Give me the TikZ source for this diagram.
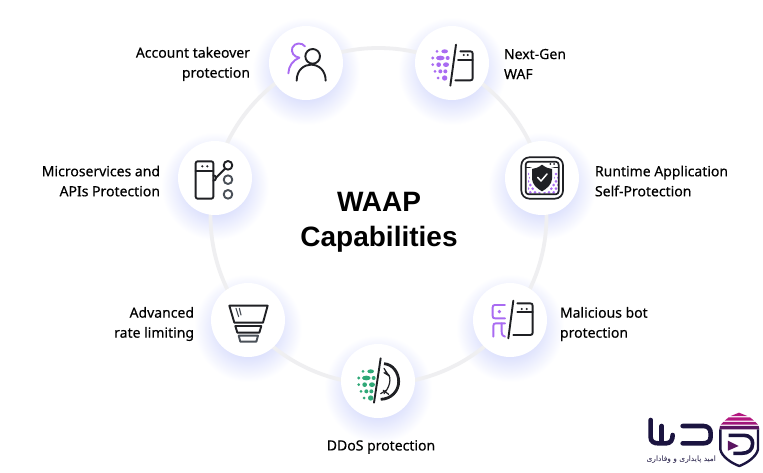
\documentclass[tikz,border=0pt]{standalone}
\usepackage{fontspec}
\setmainfont[FakeBold=0.25]{Noto Sans}
\newfontfamily\titlefont{Liberation Sans}
\newfontfamily\arabicfont[Script=Arabic]{DejaVu Sans}
\TeXXeTstate=1
\definecolor{ink}{HTML}{1F2024}
\definecolor{greyink}{HTML}{4A5058}
\definecolor{lilac}{HTML}{A96BF2}
\definecolor{leaf}{HTML}{2FA877}
\definecolor{ringc}{HTML}{EFEFF1}
\definecolor{halo}{HTML}{6A7DF5}
\definecolor{navy}{HTML}{1B1440}
\definecolor{magenta}{HTML}{B3177F}
\definecolor{plum}{HTML}{5A1560}
\tikzset{
  every node/.style={inner sep=0pt,outer sep=0pt},
  wheel/.style={circle,fill=white,minimum size=74pt},
  lab/.style={font=\fontsize{14}{20}\selectfont,text=black},
  labr/.style={lab,align=right,anchor=east},
  labl/.style={lab,align=left,anchor=west},
  ic/.style={draw=ink,line width=1.9pt,line cap=round,line join=round},
  lil/.style={draw=lilac,line width=1.9pt,line cap=round,line join=round},
  icon/.style={x=0.3333pt,y=-0.3333pt},
  markstroke/.style={draw=navy,line width=4.6pt,line cap=round,line join=round},
}
\newcommand{\haloat}[2]{%
  \shade[inner color=halo!48,outer color=white] (#1,#2+8) circle[radius=54pt];
}
% spray of dots, units are 1/3 px around the icon centre
\newcommand{\spray}[2]{%
  \begin{scope}[yshift=#2]
  \fill[#1] (-45,-35) circle[radius=4.5] (-22,-35) ellipse[x radius=10,y radius=6]
   (-58,-15) circle[radius=5] (-35,-15) ellipse[x radius=13,y radius=7] (-13,-15) circle[radius=6]
   (-58,5) circle[radius=4.5] (-40,5) circle[radius=7] (-18,5) ellipse[x radius=9,y radius=7]
   (-51,25) circle[radius=4.5] (-35,25) circle[radius=6] (-20,25) circle[radius=6]
   (-42,45) circle[radius=4.5] (-22,45) circle[radius=8];
  \end{scope}}
\begin{document}
\begin{tikzpicture}[x=1pt,y=-1pt]
\useasboundingbox (0,0) rectangle (763,473);
\fill[white] (0,0) rectangle (763,473);
\haloat{306}{63}\haloat{452}{63}\haloat{542}{178}\haloat{510}{320}\haloat{378}{381}\haloat{248}{320}\haloat{215}{178}
\draw[ringc,line width=3.8pt] (378.5,216) circle[radius=168pt];
\node[wheel] (acct) at (306,63) {};
\node[wheel] (waf) at (452,63) {};
\node[wheel] (rasp) at (542,178) {};
\node[wheel] (bot) at (510,320) {};
\node[wheel] (ddos) at (378,381) {};
\node[wheel] (rate) at (248,320) {};
\node[wheel] (micro) at (215,178) {};

% account icon
\begin{scope}[shift={(acct.center)},icon]
 \draw[lil] (-3,-50) .. controls (-12,-62) and (-34,-62) .. (-41,-46) .. controls (-46,-32) and (-36,-18) .. (-20,-16) .. controls (-40,-8) and (-52,10) .. (-53,31);
 \draw[ic] (20,-20) circle[radius=22];
 \draw[ic] (-28,53) .. controls (-28,20) and (-5,5) .. (15,5) .. controls (38,5) and (59,22) .. (59,53);
\end{scope}

% WAF icon
\begin{scope}[shift={(waf.center)},icon]
 \spray{lilac}{0pt}
 \draw[ic] (12,-55) -- (-5,68);
 \draw[ic] (25,-35) -- (55,-35) .. controls (60,-35) and (62,-33) .. (62,-28) -- (62,45) .. controls (62,50) and (60,52) .. (55,52) -- (10,52);
 \draw[ic] (18,-10) -- (62,-10);
 \fill[ink] (35,-24) circle[radius=3.5] (47,-24) circle[radius=3.5];
\end{scope}

% runtime protection icon
\begin{scope}[shift={(rasp.center)},icon]
 \begin{scope}
  \clip (-42,-20) rectangle (50,48);
  \foreach \i in {0,...,6}{\foreach \j in {0,...,5}{
    \fill[lilac] ({-42+\i*14+mod(\j,2)*7},{-12+\j*11}) circle[radius=4.4];}}
 \end{scope}
 \draw[ic,line width=1.7pt,rounded corners=8pt] (-62,-62) rectangle (63,62);
 \draw[ic,line width=1.7pt,rounded corners=3pt] (-49,-49) rectangle (50,49);
 \draw[ic,line width=1.2pt] (-49,-32) -- (-32,-32);
 \draw[ic,line width=1.2pt] (30,-32) -- (50,-32);
 \fill[ink] (25,-42) circle[radius=3] (36,-42) circle[radius=3];
 \fill[white] (0,-46) .. controls (-12,-36) and (-24,-32) .. (-36,-31) -- (-36,2) .. controls (-36,22) and (-18,38) .. (0,46) .. controls (18,38) and (36,22) .. (36,2) -- (36,-31) .. controls (24,-32) and (12,-36) .. (0,-46) -- cycle;
 \fill[ink] (0,-40) .. controls (-10,-32) and (-20,-28) .. (-30,-27) -- (-30,2) .. controls (-30,18) and (-15,32) .. (0,40) .. controls (15,32) and (30,18) .. (30,2) -- (30,-27) .. controls (20,-28) and (10,-32) .. (0,-40) -- cycle;
 \draw[white,line width=1.5pt,line cap=round,line join=round] (-13,-2) -- (-3,9) -- (15,-12);
\end{scope}

% bot icon
\begin{scope}[shift={(bot.center)},icon]
 \draw[lil] (-15,-45) -- (-45,-45) .. controls (-50,-45) and (-52,-43) .. (-52,-38) -- (-52,-12) .. controls (-52,-7) and (-50,-5) .. (-45,-5) -- (-15,-5);
 \fill[lilac] (-32,-25) circle[radius=5.5];
 \draw[lil] (-15,10) -- (-42,10) .. controls (-48,10) and (-50,12) .. (-50,18) -- (-50,50);
 \draw[lil] (-25,10) -- (-25,35) .. controls (-25,45) and (-20,50) .. (-15,50);
 \draw[ic] (10,-58) -- (-5,55);
 \draw[ic] (22,-50) -- (60,-50) .. controls (66,-50) and (68,-48) .. (68,-42) -- (68,38) .. controls (68,43) and (66,45) .. (60,45) -- (10,45);
 \draw[ic] (22,-23) -- (68,-23);
 \fill[ink] (35,-33) circle[radius=3.5] (50,-33) circle[radius=3.5];
\end{scope}

% rate limiting icon
\begin{scope}[shift={(rate.center)},icon]
 \draw[ic] (-56,-43) -- (59,-43) -- (45,8) -- (-41,8) -- cycle;
 \draw[ic,draw=greyink,line width=1.1pt] (-36,-35) -- (-28,-10);
 \draw[ic,draw=greyink,line width=1.1pt] (-26,-35) -- (-21,-15);
 \draw[ic] (-38,18) -- (40,18) -- (34,38) -- (-32,38) -- cycle;
 \draw[ic,draw=greyink] (-28,47) -- (30,47) -- (25,65) -- (-23,65) -- cycle;
\end{scope}

% DDoS icon
\begin{scope}[shift={(ddos.center)},icon]
 \spray{leaf}{-2pt}
 \draw[ic] (8,-68) -- (-12,65);
 \draw[ic,line width=2.8pt,line cap=butt] (18,-52) .. controls (45,-50) and (62,-25) .. (62,2) .. controls (62,30) and (40,54) .. (8,55);
 \draw[ic,line width=1.2pt] (22,-28) .. controls (40,-20) and (42,10) .. (18,38);
 \draw[ic,line width=1.2pt] (18,-25) -- (34,-15) (18,-38) -- (28,-22) (16,28) -- (32,40) (8,38) -- (24,28);
\end{scope}

% micro-services icon
\begin{scope}[shift={(micro.center)},icon]
 \draw[ic,rounded corners=2pt] (-58,-50) rectangle (-5,62);
 \draw[ic] (-58,-20) -- (-5,-20);
 \fill[ink] (-38,-35) circle[radius=3.6] (-23,-35) circle[radius=3.6];
 \draw[ic] (-5,-8) arc[start angle=-90,end angle=90,radius=8];
 \draw[ic] (2,0) -- (30,-28);
 \draw[ic] (39,-38) circle[radius=13];
 \draw[ic,draw=greyink] (39,5) circle[radius=13];
 \draw[ic,draw=greyink] (39,49) circle[radius=13];
\end{scope}

% labels
\node[labr] (t1) at (250,64) {Account takeover\\protection};
\node[labl] (t2) at (504,64) {Next-Gen\\WAF};
\node[labl] (t3) at (595,181) {Runtime Application\\Self-Protection};
\node[labl] (t4) at (560,324) {Malicious bot\\protection};
\node[lab] (t5) at (381,447) {DDoS protection};
\node[labr] (t6) at (194,324) {Advanced\\rate limiting};
\node[labr] (t7) at (160,181) {Microservices and\\APIs Protection};
\node[font=\fontsize{28}{35}\selectfont\titlefont\bfseries,align=center] (title) at (379,222) {WAAP\\Capabilities};

% logo
\begin{scope}[shift={(640,400)},x=0.3333pt,y=-0.3333pt]
 \draw[markstroke] (32,60) -- (32,112) .. controls (32,125) and (42,130) .. (55,130) -- (78,130) .. controls (92,130) and (98,120) .. (98,105);
 \draw[markstroke] (65,78) -- (65,128);
 \draw[markstroke] (128,78) -- (190,78) .. controls (205,78) and (212,88) .. (212,100) -- (212,110) .. controls (212,122) and (205,130) .. (190,130) -- (128,130);
 % shield
 \fill[magenta] (297,38) -- (322,48) -- (272,48) -- cycle;
 \fill[magenta] (266,52) -- (330,52) -- (342,62) -- (254,62) -- cycle;
 \fill[magenta!80!plum] (250,66) -- (346,66) -- (354,74) -- (242,74) -- cycle;
 \fill[plum] (240,78) -- (356,78) -- (358,88) -- (238,88) -- cycle;
 \draw[navy,line width=2.4pt,line join=round] (241,88) -- (241,148) .. controls (245,170) and (275,190) .. (298,198) .. controls (320,190) and (350,170) .. (354,148) -- (354,88);
 \draw[navy,line width=3.6pt,line join=round] (266,106) -- (312,106) .. controls (330,106) and (338,118) .. (338,130) .. controls (338,150) and (325,160) .. (305,160) -- (280,160);
 \fill[plum] (264,122) -- (296,138) -- (264,152) -- cycle;
 \node[font=\fontsize{7.5}{8}\selectfont\arabicfont,text=navy] (motto) at (124,178) {\beginR امید پایداری و وفاداری\endR};
\end{scope}
\end{tikzpicture}
\end{document}
